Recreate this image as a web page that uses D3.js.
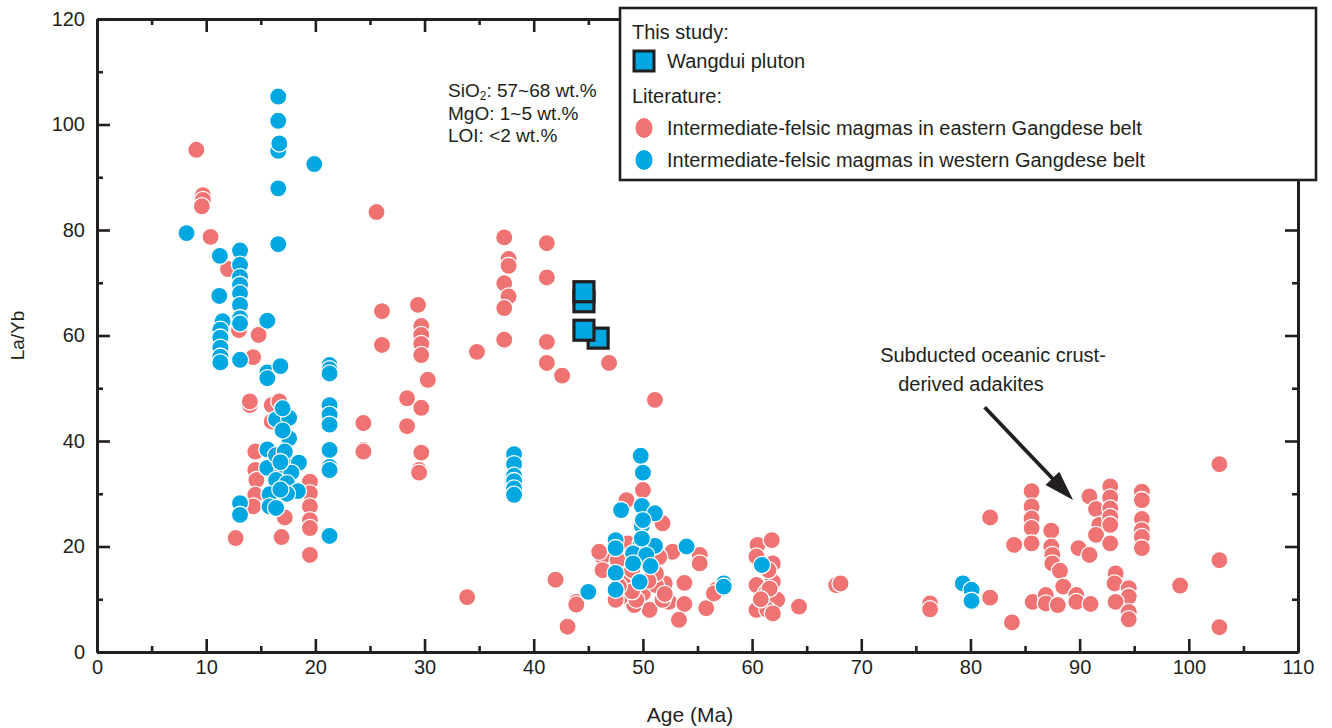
<!DOCTYPE html>
<html>
<head>
<meta charset="utf-8">
<script src="https://cdn.jsdelivr.net/npm/d3@7/dist/d3.min.js"></script>
<style>
  html, body { margin: 0; padding: 0; background: #fff; }
  svg { display: block; font-family: "Liberation Sans", Arial, Helvetica, sans-serif; }
</style>
</head>
<body>
<svg id="chart" width="1332" height="728"></svg>
<script>
// La/Yb versus crystallization age for Gangdese intermediate-felsic rocks

// Eastern Gangdese belt (literature): [age Ma, La/Yb]
const eastern = [
  [9.1,95.2],[9.7,86.6],[9.7,85.7],[9.6,84.5],[10.4,78.7],[12.0,72.6],[25.6,83.4],
  [13.0,61.0],[14.8,60.1],[14.3,55.9],[14.0,46.8],[14.0,47.5],[16.0,46.8],[16.7,47.5],
  [16.0,43.7],[14.5,38.0],[14.5,34.5],[14.6,32.6],[14.5,29.8],[14.3,27.6],[19.5,32.3],
  [19.5,30.1],[19.5,27.6],[19.5,25.0],[19.5,23.5],[17.2,25.5],[12.7,21.6],[16.9,21.8],
  [19.5,18.4],[24.4,43.4],[24.4,38.3],[24.4,38.0],[26.1,64.6],[26.1,58.2],
  [37.3,78.6],[41.2,77.5],[37.7,74.5],[37.7,73.2],[37.3,69.9],[37.7,67.4],[37.3,65.2],
  [41.2,71.0],[41.2,58.8],[37.3,59.2],[41.2,54.8],[42.6,52.4],[46.9,54.8],[34.8,56.9],
  [29.4,65.8],[29.7,61.8],[29.7,60.1],[29.7,58.4],[29.7,56.3],[30.3,51.6],[28.4,48.1],
  [28.4,42.8],[29.7,46.3],[29.7,37.8],[29.5,34.5],[29.5,34.0],[33.9,10.4],
  [51.1,47.8],[48.5,28.8],[50.0,30.7],[51.8,24.4],[46.3,18.1],[46.3,15.5],[52.7,19.0],
  [55.2,18.4],[55.2,16.8],[52.0,13.0],[53.8,13.1],[52.4,9.5],[53.8,9.1],[53.3,6.1],
  [50.6,8.0],[49.2,8.9],[48.0,10.5],[43.9,9.5],[43.9,9.0],[42.0,13.7],[43.1,4.8],
  [55.8,8.3],[56.7,11.8],[56.5,11.1],[48.5,14.9],[48.8,12.4],[50.0,11.1],[51.2,12.7],
  [51.2,14.9],[47.5,9.9],[51.8,9.9],[49.4,9.9],[50.7,16.8],[47.7,17.4],[46.0,19.0],
  [48.2,13.0],[49.0,15.5],[50.5,13.5],[52.0,11.0],[49.0,11.5],[47.8,12.5],[48.6,20.6],
  [51.5,18.0],
  [60.5,20.3],[61.8,21.2],[60.4,18.1],[61.9,16.8],[60.4,12.7],[61.9,13.3],[61.3,11.3],
  [62.3,9.9],[60.4,8.0],[61.4,8.0],[61.9,7.3],[64.3,8.6],[67.7,12.7],[68.1,13.0],
  [76.3,9.2],[76.3,8.1],[61.6,12.0],[60.8,10.0],[61.5,15.5],
  [81.8,10.3],[83.8,5.6],[81.8,25.5],[84.0,20.3],[85.6,30.5],[85.6,27.6],[85.6,25.3],
  [85.6,23.5],[85.6,20.6],[85.7,9.5],[87.4,23.0],[87.4,20.0],[87.5,18.4],[87.5,16.8],
  [88.2,15.4],[88.5,12.4],[86.9,10.8],[86.9,9.2],[88.0,8.9],[89.7,10.8],[89.7,9.5],
  [91.0,9.1],[90.9,29.5],[91.5,27.1],[91.8,24.1],[91.5,22.2],[89.9,19.7],[90.9,18.4],
  [92.8,31.4],[92.8,29.3],[92.8,27.2],[92.8,25.6],[92.8,24.1],[92.8,20.6],[93.3,14.9],
  [93.2,13.0],[94.5,12.1],[94.5,10.5],[93.3,9.5],[94.5,7.6],[94.5,6.2],[95.7,30.4],
  [95.7,28.8],[95.7,25.2],[95.7,23.1],[95.7,21.8],[95.7,19.7],[99.2,12.6],[102.8,35.6],
  [102.8,17.4],[102.8,4.7]
];

// Western Gangdese belt (literature): [age Ma, La/Yb]
const western = [
  [16.6,105.3],[16.6,100.7],[16.6,95.0],[16.7,96.4],[19.9,92.5],[16.6,87.9],[8.2,79.4],
  [16.6,77.3],[11.25,75.1],[13.1,76.1],[13.1,73.4],[13.1,71.1],[13.1,69.6],[13.1,68.0],
  [11.2,67.5],[13.1,65.8],[11.5,62.7],[13.1,63.3],[15.6,62.8],[13.1,62.3],[11.3,61.1],
  [11.3,59.6],[11.3,57.7],[11.3,56.0],[11.3,54.9],[13.1,55.4],[15.6,53.0],[15.6,51.9],
  [16.8,54.2],[21.3,54.4],[21.3,53.6],[21.3,52.8],[21.3,46.8],[21.3,45.0],[21.3,43.1],
  [21.3,38.3],[21.3,35.1],[21.3,34.5],[21.3,22.0],
  [16.4,44.1],[17.6,44.4],[17.0,46.2],[17.6,40.5],[15.6,38.4],[15.6,34.9],[16.4,37.3],
  [17.8,35.9],[18.5,35.9],[17.0,34.5],[17.8,34.0],[16.4,32.6],[17.4,32.0],[18.4,30.5],
  [15.8,29.9],[15.8,27.6],[16.4,27.3],[13.1,28.2],[13.1,26.0],[17.0,42.0],[17.2,38.0],
  [16.8,36.0],[17.4,30.0],[16.8,30.8],
  [38.2,37.5],[38.2,35.6],[38.2,33.4],[38.2,32.4],[38.2,31.0],[38.2,29.8],
  [49.8,37.2],[50.0,34.0],[49.9,27.7],[51.1,26.3],[48.0,26.9],[49.9,23.9],[47.5,21.2],
  [47.5,19.7],[49.8,20.6],[51.1,20.1],[49.1,18.7],[50.3,18.4],[49.1,16.8],[50.7,16.3],
  [54.0,20.0],[47.5,15.0],[49.7,13.3],[47.5,11.8],[45.0,11.4],[57.4,13.0],[57.4,12.4],
  [49.9,21.5],[50.0,25.0],
  [60.9,16.5],[79.3,13.0],[80.1,11.8],[80.1,9.7]
];

// Wangdui pluton (this study): [age Ma, La/Yb]
const wangdui = [[44.6,66.4],[44.6,68.3],[45.9,59.5],[44.6,61.0]];

const xMajorTicks = [0,10,20,30,40,50,60,70,80,90,100,110];
const xMinorTicks = [5,15,25,35,45,55,65,75,85,95,105];
const yMajorTicks = [0,20,40,60,80,100,120];
const yMinorTicks = [10,30,50,70,90,110];

const legendEntries = [
  { kind: "header", text: "This study:" },
  { kind: "square", text: "Wangdui pluton" },
  { kind: "header", text: "Literature:" },
  { kind: "east", text: "Intermediate-felsic magmas in eastern Gangdese belt" },
  { kind: "west", text: "Intermediate-felsic magmas in western Gangdese belt" }
];

const INK = "#231f20";
const PINK = "#f07373";
const BLUE = "#00a7e0";

const svg = d3.select("#chart");
const plotLeft = 97, plotRight = 1298, plotTop = 19, plotBottom = 652;

const x = d3.scaleLinear().domain([0, 110]).range([plotLeft, plotRight]);
const y = d3.scaleLinear().domain([0, 120]).range([plotBottom, plotTop]);

function styleAxis(g) {
  g.selectAll(".domain").attr("stroke", INK).attr("stroke-width", 3);
  g.selectAll(".tick line").attr("stroke", INK).attr("stroke-width", 2.6);
  g.selectAll("text").attr("fill", INK).style("font-size", "20px")
    .style("font-family", '"Liberation Sans", Arial, sans-serif');
}

// Bottom axis: labelled major ticks and minor ticks, all pointing inward
svg.append("g").attr("transform", `translate(0,${plotBottom})`)
  .call(d3.axisBottom(x).tickValues(xMajorTicks).tickSize(-13).tickSizeOuter(0).tickPadding(8).tickFormat(d3.format("d")))
  .call(styleAxis);
svg.append("g").attr("transform", `translate(0,${plotBottom})`)
  .call(d3.axisBottom(x).tickValues(xMinorTicks).tickSize(-6).tickSizeOuter(0).tickFormat(""))
  .call(styleAxis);

// Top frame
svg.append("g").attr("transform", `translate(0,${plotTop})`)
  .call(d3.axisTop(x).tickValues(xMajorTicks).tickSize(-13).tickSizeOuter(0).tickFormat(""))
  .call(styleAxis);
svg.append("g").attr("transform", `translate(0,${plotTop})`)
  .call(d3.axisTop(x).tickValues(xMinorTicks).tickSize(-6).tickSizeOuter(0).tickFormat(""))
  .call(styleAxis);

// Left axis
svg.append("g").attr("transform", `translate(${plotLeft},0)`)
  .call(d3.axisLeft(y).tickValues(yMajorTicks).tickSize(-13).tickSizeOuter(0).tickPadding(12))
  .call(styleAxis);
svg.append("g").attr("transform", `translate(${plotLeft},0)`)
  .call(d3.axisLeft(y).tickValues(yMinorTicks).tickSize(-6).tickSizeOuter(0).tickFormat(""))
  .call(styleAxis);

// Right frame
svg.append("g").attr("transform", `translate(${plotRight},0)`)
  .call(d3.axisRight(y).tickValues(yMajorTicks).tickSize(-13).tickSizeOuter(0).tickFormat(""))
  .call(styleAxis);
svg.append("g").attr("transform", `translate(${plotRight},0)`)
  .call(d3.axisRight(y).tickValues(yMinorTicks).tickSize(-6).tickSizeOuter(0).tickFormat(""))
  .call(styleAxis);

// Axis titles
svg.append("text").attr("x", 690).attr("y", 722)
  .attr("text-anchor", "middle").attr("fill", INK).style("font-size", "21px").text("Age (Ma)");
svg.append("text").attr("transform", `translate(24,${(plotTop + plotBottom) / 2}) rotate(-90)`)
  .attr("text-anchor", "middle").attr("fill", INK).style("font-size", "19px").text("La/Yb");

// Data points
const R = 8.6;
const pts = svg.append("g");
pts.selectAll("circle.east").data(eastern).join("circle").attr("class", "east")
  .attr("cx", d => x(d[0])).attr("cy", d => y(d[1])).attr("r", R)
  .attr("fill", PINK).attr("stroke", "#fff").attr("stroke-width", 1.3);
pts.selectAll("circle.west").data(western).join("circle").attr("class", "west")
  .attr("cx", d => x(d[0])).attr("cy", d => y(d[1])).attr("r", R)
  .attr("fill", BLUE).attr("stroke", "#fff").attr("stroke-width", 1.3);
const S = 20;
pts.selectAll("rect.wd").data(wangdui).join("rect").attr("class", "wd")
  .attr("x", d => x(d[0]) - S / 2).attr("y", d => y(d[1]) - S / 2)
  .attr("width", S).attr("height", S)
  .attr("fill", BLUE).attr("stroke", INK).attr("stroke-width", 3.2);

// Compositional filter note
const noteSize = "19px";
const l1 = svg.append("text").attr("x", 448).attr("y", 97).attr("fill", INK).style("font-size", noteSize);
l1.append("tspan").text("SiO");
l1.append("tspan").attr("dy", 3).style("font-size", "12px").text("2");
l1.append("tspan").attr("dy", -3).text(": 57~68 wt.%");
svg.append("text").attr("x", 448).attr("y", 120).attr("fill", INK).style("font-size", noteSize).text("MgO: 1~5 wt.%");
svg.append("text").attr("x", 448).attr("y", 142).attr("fill", INK).style("font-size", noteSize).text("LOI: <2 wt.%");

// Adakite annotation and arrow
svg.append("text").attr("x", 993).attr("y", 362).attr("text-anchor", "middle")
  .attr("fill", INK).style("font-size", "20px").text("Subducted oceanic crust-");
svg.append("text").attr("x", 971).attr("y", 391).attr("text-anchor", "middle")
  .attr("fill", INK).style("font-size", "20px").text("derived adakites");
const arrowFrom = [81.3, 46.4], arrowTo = [89.4, 28.8];
const ax0 = x(arrowFrom[0]), ay0 = y(arrowFrom[1]), ax1 = x(arrowTo[0]), ay1 = y(arrowTo[1]);
const ang = Math.atan2(ay1 - ay0, ax1 - ax0);
const headLen = 30, headHalf = 9.5;
const bx = ax1 - headLen * Math.cos(ang), by = ay1 - headLen * Math.sin(ang);
svg.append("line").attr("x1", ax0).attr("y1", ay0).attr("x2", bx + 3 * Math.cos(ang)).attr("y2", by + 3 * Math.sin(ang))
  .attr("stroke", INK).attr("stroke-width", 3.8);
svg.append("path")
  .attr("d", `M${ax1},${ay1} L${bx + headHalf * Math.sin(ang)},${by - headHalf * Math.cos(ang)} L${bx - headHalf * Math.sin(ang)},${by + headHalf * Math.cos(ang)} Z`)
  .attr("fill", INK);

// Legend
const lg = svg.append("g");
lg.append("rect").attr("x", 620).attr("y", 8).attr("width", 696).attr("height", 172)
  .attr("fill", "#fff").attr("stroke", INK).attr("stroke-width", 2.6);
const rowY = [32, 61, 96, 128, 160];
legendEntries.forEach((e, i) => {
  const cy = rowY[i];
  const tx = e.kind === "header" ? 632 : 667;
  if (e.kind === "square") {
    lg.append("rect").attr("x", 634).attr("y", cy - 10).attr("width", 20).attr("height", 20)
      .attr("fill", BLUE).attr("stroke", INK).attr("stroke-width", 3);
  } else if (e.kind === "east" || e.kind === "west") {
    lg.append("ellipse").attr("cx", 644).attr("cy", cy).attr("rx", 8.5).attr("ry", 10)
      .attr("fill", e.kind === "east" ? PINK : BLUE);
  }
  lg.append("text").attr("x", tx).attr("y", cy).attr("dy", "0.35em")
    .attr("fill", INK).style("font-size", "20px").text(e.text);
});
</script>
</body>
</html>
